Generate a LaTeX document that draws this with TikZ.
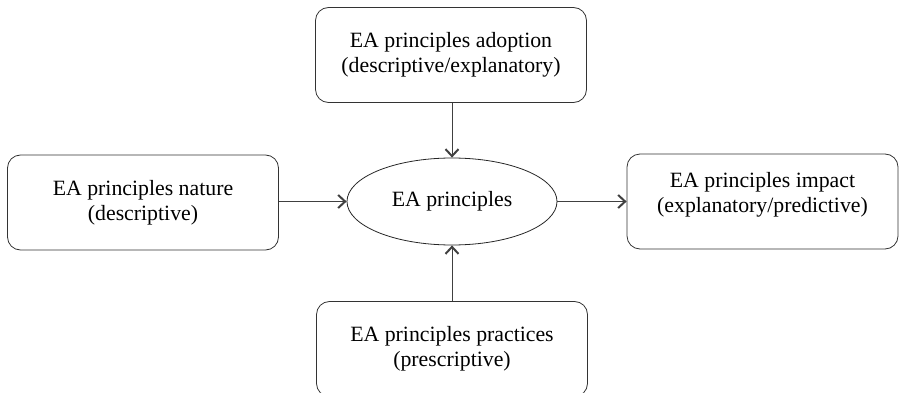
\documentclass[tikz,border=0pt]{standalone}
\usepackage{fontspec}
\setmainfont{Liberation Serif}
\usetikzlibrary{shapes.geometric,arrows.meta}
\begin{document}
\begin{tikzpicture}[x=1pt,y=-1pt,
  box/.style={draw=black!80,line width=0.8pt,rounded corners=13pt,minimum width=271pt,minimum height=95pt,inner sep=0pt,align=center,font=\fontsize{21.8}{25}\selectfont},
  oval/.style={draw=black!85,line width=0.8pt,ellipse,minimum width=210pt,minimum height=87pt,inner sep=0pt,font=\fontsize{21.8}{25}\selectfont},
  conn/.style={draw=black!75,line width=0.8pt,-{Straight Barb[length=7pt,width=13pt,line width=2pt]}}]
\useasboundingbox (0,0) rectangle (899,393);
\clip (0,0) rectangle (899,393);
\node[box] (top) at (451,55) {EA principles adoption\\(descriptive/explanatory)};
\node[box] (left) at (143,202.5) {EA principles nature\\(descriptive)};
\node[box] (right) at (762.5,201.5) {EA principles impact\\(explanatory/predictive)\\[-7pt]\mbox{}};
\node[box] (bottom) at (452,349) {EA principles practices\\(prescriptive)};
\node[oval] (ea) at (452,201.5) {EA principles};
\draw[conn] (top.south -| ea.north) -- (ea.north);
\draw[conn] (bottom.north -| ea.south) -- (ea.south);
\draw[conn] (left.east |- ea.west) -- (ea.west);
\draw[conn] (ea.east) -- (right.west |- ea.east);
\end{tikzpicture}
\end{document}
